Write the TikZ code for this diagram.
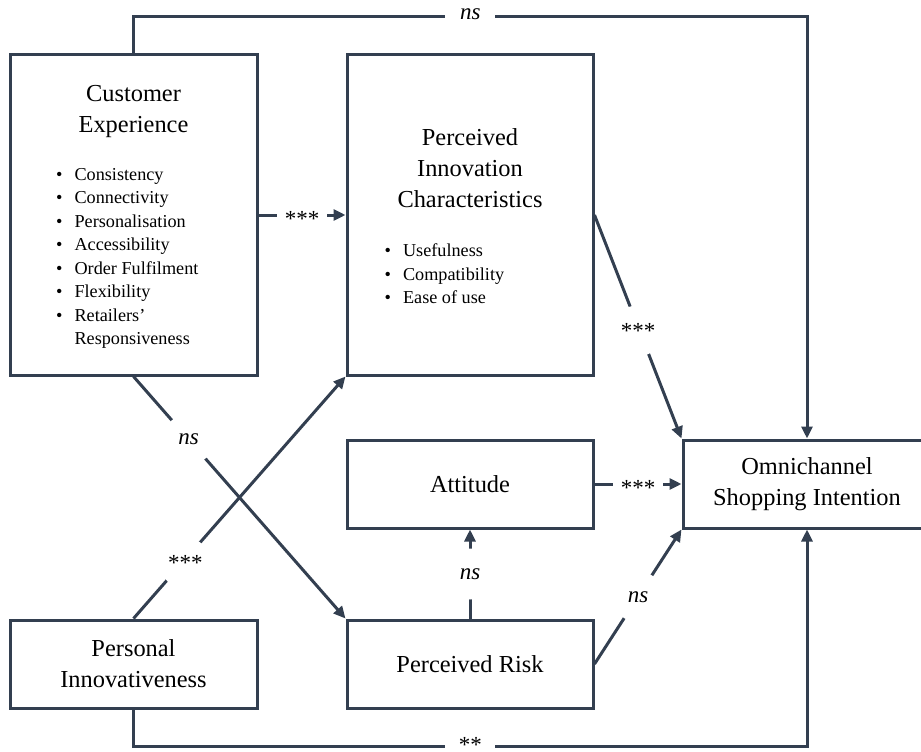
\documentclass[tikz,border=0pt]{standalone}
\usepackage{fontspec}
\setmainfont{Liberation Serif}
\usetikzlibrary{arrows.meta,calc}
\definecolor{ink}{HTML}{333F50}
\begin{document}
\begin{tikzpicture}[x=1pt,y=-1pt,
  box/.style={draw=ink, line width=3pt, rectangle, inner sep=0pt, align=center,
    font=\fontsize{24.4}{31}\selectfont},
  title/.style={inner sep=0pt, align=center, font=\fontsize{24.4}{31}\selectfont},
  items/.style={inner sep=0pt, anchor=base west, font=\fontsize{18.2}{23.5}\selectfont},
  arr/.style={draw=ink, line width=3pt, -{Triangle[length=12pt,width=11pt]}},
  lbl/.style={circle, fill=white, inner sep=0pt, minimum size=51pt,
    font=\fontsize{23}{23}\selectfont},
  hlbl/.style={rectangle, fill=white, inner xsep=0pt, inner ysep=0.5pt, minimum width=50pt,
    font=\fontsize{23}{23}\selectfont},
  star/.style={lbl, yshift=-4pt},
  hstar/.style={hlbl, yshift=-4pt},
]
\useasboundingbox (0,0) rectangle (921,752);
\clip (0,0) rectangle (921,752);

% boxes
\node[box, minimum width=247pt, minimum height=320pt] (ce)  at (133.5,215) {};
\node[box, minimum width=246pt, minimum height=320pt] (pic) at (470,215) {};
\node[box, minimum width=246pt, minimum height=88pt] (att) at (470,484) {Attitude};
\node[box, minimum width=248pt, minimum height=88pt] (omni) at (807,484) {Omnichannel\\Shopping Intention};
\node[box, minimum width=247pt, minimum height=88pt] (pi) at (133.5,664) {Personal\\Innovativeness};
\node[box, minimum width=246pt, minimum height=88pt] (pr) at (470,664) {Perceived Risk};

% box contents
\node[title] (ceT) at (133.5,112) {Customer\\Experience};
\node[items] (ceL) at (56,180) {\begin{tabular}[t]{@{}l@{\hspace{12pt}}l@{}}
\textbullet & Consistency\\
\textbullet & Connectivity\\
\textbullet & Personalisation\\
\textbullet & Accessibility\\
\textbullet & Order Fulfilment\\
\textbullet & Flexibility\\
\textbullet & Retailers'\\
 & Responsiveness
\end{tabular}};
\node[title] (picT) at (470,168) {Perceived\\Innovation\\Characteristics};
\node[items] (picL) at (384.5,256.5) {\begin{tabular}[t]{@{}l@{\hspace{12pt}}l@{}}
\textbullet & Usefulness\\
\textbullet & Compatibility\\
\textbullet & Ease of use
\end{tabular}};

% connectors
\draw[arr] (ce.north) -- ++(0,-37) -| node[hlbl, pos=0.25, yshift=2pt] {\textit{ns}} (omni.north);
\draw[arr] (pi.south) -- ++(0,37) -| node[hlbl, pos=0.25, yshift=2pt] {**} (omni.south);
\draw[arr] (ce.east) -- node[hstar] {***} (pic.west);
\draw[arr] (pic.east) -- node[star] {***} (omni.north west);
\draw[arr] (att.east) -- node[hstar] {***} (omni.west);
\draw[arr] (pr.east) -- node[lbl] {\textit{ns}} (omni.south west);
\draw[arr] (pr.north) -- node[lbl] {\textit{ns}} (att.south);
\draw[arr] (ce.south) -- node[lbl, pos=0.26] {\textit{ns}} (pr.north west);
\draw[arr] (pi.north) -- node[star, pos=0.245] {***} (pic.south west);
\end{tikzpicture}
\end{document}
